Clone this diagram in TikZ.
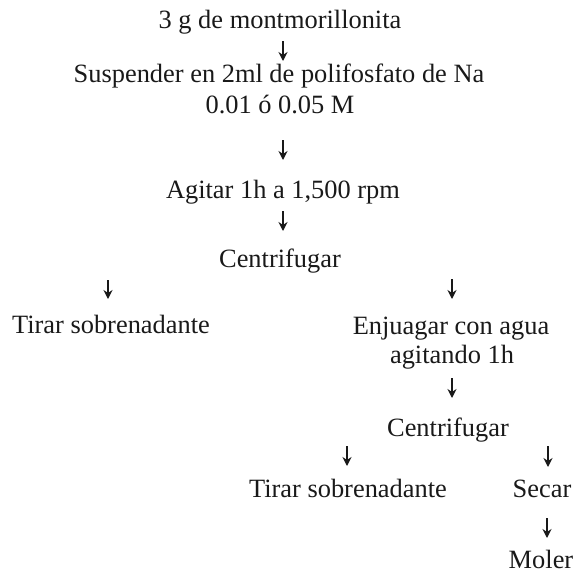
\documentclass[tikz,border=0pt]{standalone}
\usepackage{fontspec}
\setmainfont{Liberation Serif}
\usetikzlibrary{arrows.meta}
\tikzset{
  lbl/.style={anchor=base, inner sep=0pt, font=\fontsize{13.2}{15}\selectfont, text=black!90},
  arr/.style={draw=black!90, line width=0.9pt, -{Stealth[length=4.5pt,width=4.5pt]}}
}
\begin{document}
\begin{tikzpicture}[x=0.5pt,y=-0.5pt]
\useasboundingbox (0,0) rectangle (585,574);
% texts
\node[lbl] (t1) at (280,28) {3 g de montmorillonita};
\node[lbl] (t2) at (279,82) {Suspender en 2ml de polifosfato de Na};
\node[lbl] (t3) at (280,113) {0.01 ó 0.05 M};
\node[lbl] (t4) at (283,198) {Agitar 1h a 1,500 rpm};
\node[lbl] (t5) at (280,267) {Centrifugar};
\node[lbl] (t6) at (111,333) {Tirar sobrenadante};
\node[lbl] (t7) at (451,334) {Enjuagar con agua};
\node[lbl] (t8) at (452,363) {agitando 1h};
\node[lbl] (t9) at (448,436) {Centrifugar};
\node[lbl] (t10) at (348,497) {Tirar sobrenadante};
\node[lbl] (t11) at (542,497) {Secar};
\node[lbl] (t12) at (541,568) {Moler};
% arrow end points
\coordinate (a1s) at (283,41);  \coordinate (a1e) at (283,61);
\coordinate (a2s) at (283,140); \coordinate (a2e) at (283,160);
\coordinate (a3s) at (283,211); \coordinate (a3e) at (283,231);
\coordinate (a4s) at (108,280); \coordinate (a4e) at (108,299);
\coordinate (a5s) at (452,279); \coordinate (a5e) at (452,299);
\coordinate (a6s) at (452,378); \coordinate (a6e) at (452,398);
\coordinate (a7s) at (347,446); \coordinate (a7e) at (347,466);
\coordinate (a8s) at (548,446); \coordinate (a8e) at (548,467);
\coordinate (a9s) at (547,518); \coordinate (a9e) at (547,538);
% arrows
\foreach \i in {1,...,9} {\draw[arr] (a\i s) -- (a\i e);}
\end{tikzpicture}
\end{document}
